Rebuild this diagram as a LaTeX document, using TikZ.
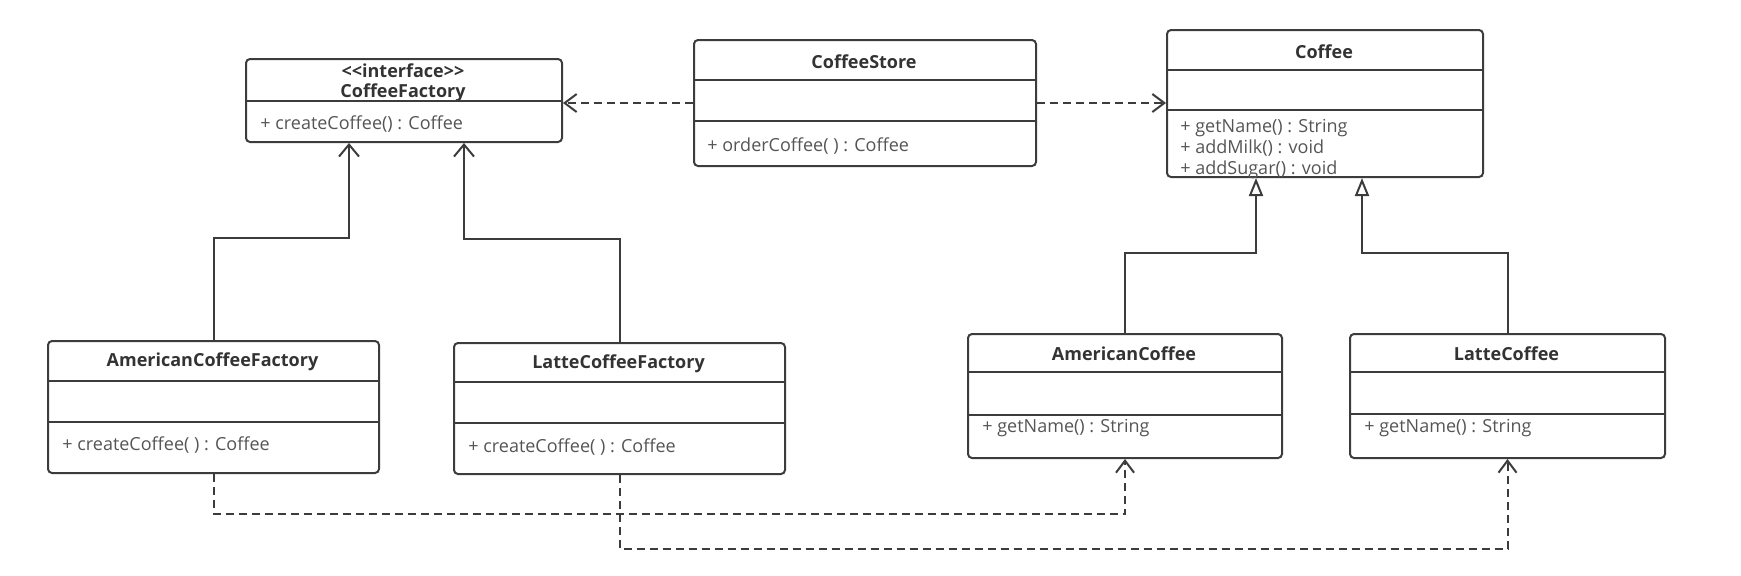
\documentclass[tikz,border=0pt]{standalone}
\usepackage{fontspec}
\setmainfont{Open Sans}
\usetikzlibrary{arrows.meta}

\definecolor{umlline}{HTML}{3C3C3C}
\definecolor{umltext}{HTML}{555555}
\definecolor{umltitle}{HTML}{333333}

\begin{document}
\begin{tikzpicture}[x=0.5pt,y=-0.5pt,
  cls/.style={draw=umlline, line width=1pt, rounded corners=2pt, anchor=north west, inner sep=0pt},
  ttl/.style={font=\fontsize{9}{10}\selectfont\bfseries, text=umltitle, inner sep=0pt, align=center},
  meth/.style={font=\fontsize{9}{10.5}\selectfont, text=umltext, anchor=west, inner sep=0pt, align=left},
  divider/.style={draw=umlline, line width=1pt},
  dep/.style={draw=umlline, line width=1pt, dash pattern=on 4pt off 2.5pt, -{Straight Barb[length=6pt,width=9pt]}},
  assoc/.style={draw=umlline, line width=1pt, -{Straight Barb[length=6pt,width=10pt]}},
  inherit/.style={draw=umlline, line width=1pt, -{Triangle[open, length=9pt, width=7pt]}}]
\useasboundingbox (0,0) rectangle (1741,575);

% interface
\node [cls, minimum width=158pt, minimum height=41.5pt] (factory) at (245,58) {};
\node [ttl] (factoryT) at (403,83) {<{}<interface>{}>\\CoffeeFactory};
\draw [divider] (245,101) -- (561,101);
\node [meth] (factoryM) at (260,124) {+ createCoffee() : Coffee};

% store
\node [cls, minimum width=171pt, minimum height=63pt] (store) at (693,39) {};
\node [ttl] (storeT) at (864,62) {CoffeeStore};
\draw [divider] (693,80) -- (1035,80);
\draw [divider] (693,121) -- (1035,121);
\node [meth] (storeM) at (707,146) {+ orderCoffee( ) : Coffee};

% product
\node [cls, minimum width=158pt, minimum height=73.5pt] (coffee) at (1166,29) {};
\node [ttl] (coffeeT) at (1324,52) {Coffee};
\draw [divider] (1166,70) -- (1482,70);
\draw [divider] (1166,110) -- (1482,110);
\node [meth] (coffeeM) at (1180,149) {+ getName() : String\\+ addMilk() : void\\+ addSugar() : void};

% concrete factories
\node [cls, minimum width=165.5pt, minimum height=66pt] (amFactory) at (47,340) {};
\node [ttl] (amFactoryT) at (212.5,362) {AmericanCoffeeFactory};
\draw [divider] (47,381) -- (378,381);
\draw [divider] (47,422) -- (378,422);
\node [meth] (amFactoryM) at (62,445) {+ createCoffee( ) : Coffee};

\node [cls, minimum width=165.5pt, minimum height=65.5pt] (laFactory) at (453,342) {};
\node [ttl] (laFactoryT) at (618.5,364) {LatteCoffeeFactory};
\draw [divider] (453,382) -- (784,382);
\draw [divider] (453,423) -- (784,423);
\node [meth] (laFactoryM) at (468,447) {+ createCoffee( ) : Coffee};

% concrete products
\node [cls, minimum width=157pt, minimum height=62pt] (amCoffee) at (967,333) {};
\node [ttl] (amCoffeeT) at (1124,354) {AmericanCoffee};
\draw [divider] (967,372) -- (1281,372);
\draw [divider] (967,415) -- (1281,415);
\node [meth] (amCoffeeM) at (982,428) {+ getName() : String};

\node [cls, minimum width=157.5pt, minimum height=62pt] (laCoffee) at (1349,333) {};
\node [ttl] (laCoffeeT) at (1506.5,354) {LatteCoffee};
\draw [divider] (1349,372) -- (1664,372);
\draw [divider] (1349,414) -- (1664,414);
\node [meth] (laCoffeeM) at (1364,428) {+ getName() : String};

% arrow ends on the upper boxes
\coordinate (facL) at ([xshift=-27.5pt]factory.south);
\coordinate (facR) at ([xshift=30pt]factory.south);
\coordinate (cofL) at ([xshift=-34.5pt]coffee.south);
\coordinate (cofR) at ([xshift=18.5pt]coffee.south);

\draw [dep] (store.west) -- (store.west -| factory.east);
\draw [dep] (store.east) -- (store.east -| coffee.west);
\draw [assoc] (amFactory.north) -- ++(0,-102) -| (facL);
\draw [assoc] (laFactory.north) -- ++(0,-103) -| (facR);
\draw [inherit] (amCoffee.north) -- ++(0,-80) -| (cofL);
\draw [inherit] (laCoffee.north) -- ++(0,-80) -| (cofR);
\draw [dep] (amFactory.south) -- ++(0,40) -| (amCoffee.south);
\draw [dep] (laFactory.south) -- ++(0,74) -| (laCoffee.south);
\end{tikzpicture}
\end{document}
